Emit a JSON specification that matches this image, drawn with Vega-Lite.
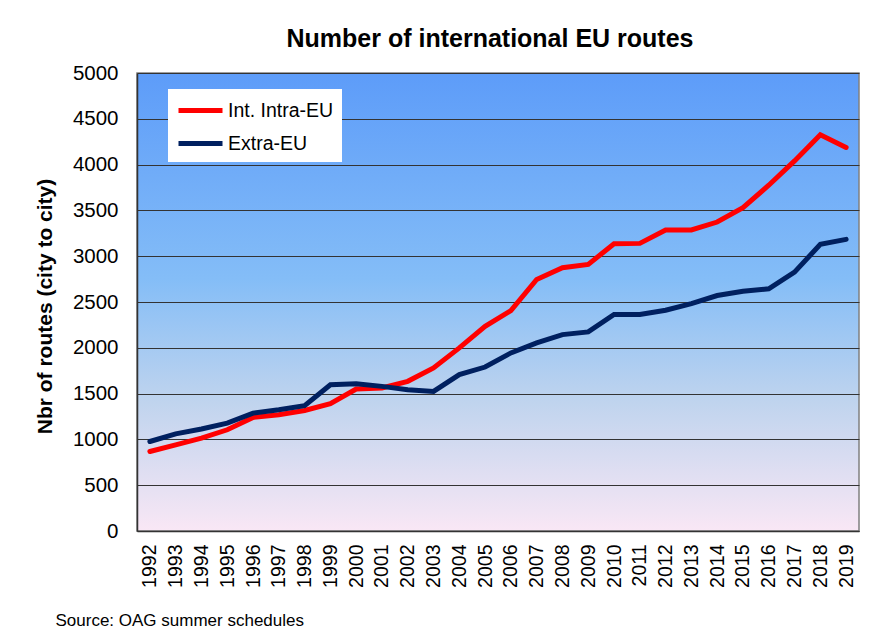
{
  "$schema": "https://vega.github.io/schema/vega-lite/v6.json",
  "autosize": "none",
  "width": 722,
  "height": 458,
  "padding": {"left": 137, "top": 73, "right": 21, "bottom": 103},
  "background": "white",
  "config": {
    "font": "Liberation Sans",
    "view": {
      "stroke": "#808080",
      "strokeWidth": 1.5,
      "fill": {
        "gradient": "linear",
        "x1": 0, "y1": 0, "x2": 0, "y2": 1,
        "stops": [
          {"offset": 0, "color": "#5d9cf9"},
          {"offset": 0.45, "color": "#84bdf7"},
          {"offset": 0.72, "color": "#c0d4ee"},
          {"offset": 1, "color": "#f9e7f5"}
        ]
      }
    }
  },
  "title": {
    "text": "Number of international EU routes",
    "fontSize": 25,
    "fontWeight": "bold",
    "color": "#000000",
    "anchor": "middle",
    "offset": 11,
    "dx": -8
  },
  "data": {
    "values": [
      {"year": "1992", "series": "Int. Intra-EU", "routes": 868},
      {"year": "1993", "series": "Int. Intra-EU", "routes": 941},
      {"year": "1994", "series": "Int. Intra-EU", "routes": 1014},
      {"year": "1995", "series": "Int. Intra-EU", "routes": 1105},
      {"year": "1996", "series": "Int. Intra-EU", "routes": 1240},
      {"year": "1997", "series": "Int. Intra-EU", "routes": 1269},
      {"year": "1998", "series": "Int. Intra-EU", "routes": 1316},
      {"year": "1999", "series": "Int. Intra-EU", "routes": 1389},
      {"year": "2000", "series": "Int. Intra-EU", "routes": 1550},
      {"year": "2001", "series": "Int. Intra-EU", "routes": 1561},
      {"year": "2002", "series": "Int. Intra-EU", "routes": 1634},
      {"year": "2003", "series": "Int. Intra-EU", "routes": 1780},
      {"year": "2004", "series": "Int. Intra-EU", "routes": 1999},
      {"year": "2005", "series": "Int. Intra-EU", "routes": 2235},
      {"year": "2006", "series": "Int. Intra-EU", "routes": 2407},
      {"year": "2007", "series": "Int. Intra-EU", "routes": 2746},
      {"year": "2008", "series": "Int. Intra-EU", "routes": 2874},
      {"year": "2009", "series": "Int. Intra-EU", "routes": 2910},
      {"year": "2010", "series": "Int. Intra-EU", "routes": 3136},
      {"year": "2011", "series": "Int. Intra-EU", "routes": 3140},
      {"year": "2012", "series": "Int. Intra-EU", "routes": 3286},
      {"year": "2013", "series": "Int. Intra-EU", "routes": 3286},
      {"year": "2014", "series": "Int. Intra-EU", "routes": 3373},
      {"year": "2015", "series": "Int. Intra-EU", "routes": 3530},
      {"year": "2016", "series": "Int. Intra-EU", "routes": 3775},
      {"year": "2017", "series": "Int. Intra-EU", "routes": 4040},
      {"year": "2018", "series": "Int. Intra-EU", "routes": 4325},
      {"year": "2019", "series": "Int. Intra-EU", "routes": 4187},
      {"year": "1992", "series": "Extra-EU", "routes": 977},
      {"year": "1993", "series": "Extra-EU", "routes": 1061},
      {"year": "1994", "series": "Extra-EU", "routes": 1113},
      {"year": "1995", "series": "Extra-EU", "routes": 1178},
      {"year": "1996", "series": "Extra-EU", "routes": 1287},
      {"year": "1997", "series": "Extra-EU", "routes": 1324},
      {"year": "1998", "series": "Extra-EU", "routes": 1368},
      {"year": "1999", "series": "Extra-EU", "routes": 1597},
      {"year": "2000", "series": "Extra-EU", "routes": 1608},
      {"year": "2001", "series": "Extra-EU", "routes": 1579},
      {"year": "2002", "series": "Extra-EU", "routes": 1543},
      {"year": "2003", "series": "Extra-EU", "routes": 1524},
      {"year": "2004", "series": "Extra-EU", "routes": 1707},
      {"year": "2005", "series": "Extra-EU", "routes": 1790},
      {"year": "2006", "series": "Extra-EU", "routes": 1944},
      {"year": "2007", "series": "Extra-EU", "routes": 2053},
      {"year": "2008", "series": "Extra-EU", "routes": 2144},
      {"year": "2009", "series": "Extra-EU", "routes": 2174},
      {"year": "2010", "series": "Extra-EU", "routes": 2363},
      {"year": "2011", "series": "Extra-EU", "routes": 2363},
      {"year": "2012", "series": "Extra-EU", "routes": 2410},
      {"year": "2013", "series": "Extra-EU", "routes": 2483},
      {"year": "2014", "series": "Extra-EU", "routes": 2571},
      {"year": "2015", "series": "Extra-EU", "routes": 2618},
      {"year": "2016", "series": "Extra-EU", "routes": 2644},
      {"year": "2017", "series": "Extra-EU", "routes": 2826},
      {"year": "2018", "series": "Extra-EU", "routes": 3129},
      {"year": "2019", "series": "Extra-EU", "routes": 3184}
    ]
  },
  "mark": {"type": "line", "strokeWidth": 5, "strokeJoin": "miter", "strokeCap": "round"},
  "encoding": {
    "x": {
      "field": "year",
      "type": "ordinal",
      "scale": {"type": "point", "padding": 0.5},
      "axis": {
        "labelAngle": 270,
        "labelFontSize": 19.5,
        "labelColor": "#000000",
        "labelPadding": 13,
        "ticks": false,
        "domainColor": "#333333",
        "domainWidth": 1.5,
        "grid": false,
        "title": "Source: OAG summer schedules",
        "titleFontSize": 17,
        "titleFontWeight": "normal",
        "titleColor": "#000000",
        "titleAlign": "left",
        "titleAnchor": "start",
        "titleBaseline": "middle",
        "titleX": -82,
        "titleY": 89
      }
    },
    "y": {
      "field": "routes",
      "type": "quantitative",
      "scale": {"domain": [0, 5000], "nice": false},
      "axis": {
        "values": [0, 500, 1000, 1500, 2000, 2500, 3000, 3500, 4000, 4500, 5000],
        "format": "d",
        "labelFontSize": 20.5,
        "labelColor": "#000000",
        "labelPadding": 19,
        "ticks": false,
        "domainColor": "#333333",
        "domainWidth": 1.5,
        "gridColor": "#333333",
        "gridWidth": 1.2,
        "title": "Nbr of routes (city to city)",
        "titleFontSize": 21,
        "titleFontWeight": "bold",
        "titleColor": "#000000",
        "titleAngle": 270,
        "titleBaseline": "middle",
        "titleX": -92,
        "titleY": 233
      }
    },
    "color": {
      "field": "series",
      "type": "nominal",
      "sort": ["Int. Intra-EU", "Extra-EU"],
      "scale": {"domain": ["Int. Intra-EU", "Extra-EU"], "range": ["#ff0000", "#002060"]},
      "legend": {
        "title": null,
        "orient": "none",
        "legendX": 31,
        "legendY": 16,
        "fillColor": "#ffffff",
        "padding": 8,
        "symbolType": "M-1,0H3",
        "symbolSize": 484,
        "symbolStrokeWidth": 5,
        "labelFontSize": 19.5,
        "labelColor": "#000000",
        "labelOffset": 25,
        "rowPadding": 9,
        "labelLimit": 300
      }
    }
  }
}
